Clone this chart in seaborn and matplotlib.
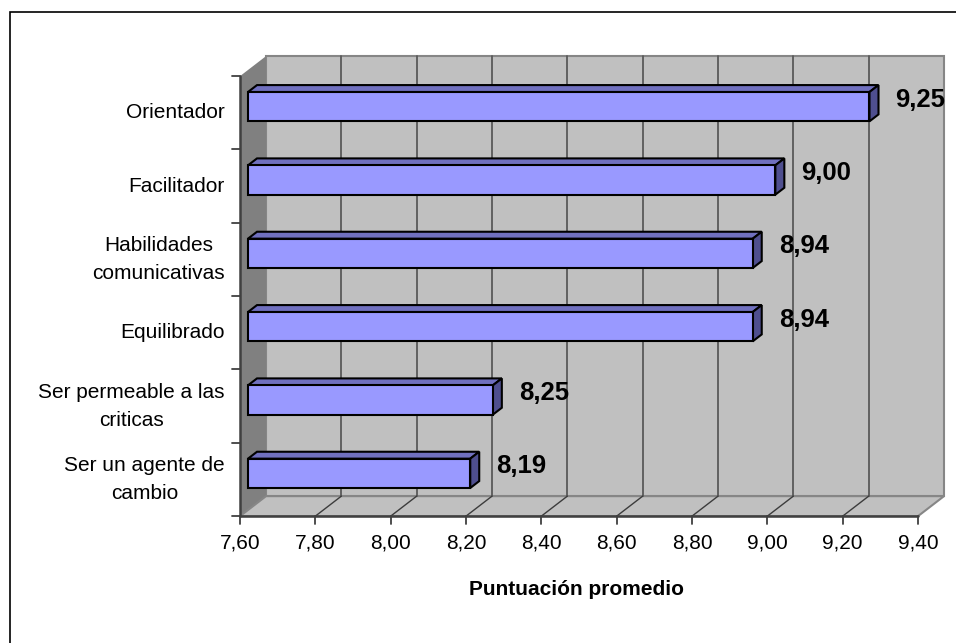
import numpy as np
import pandas as pd
import matplotlib.pyplot as plt
import seaborn as sns
from matplotlib.patches import Polygon, Rectangle
from matplotlib.transforms import IdentityTransform

# Data
categories = ["Orientador", "Facilitador", "Habilidades\ncomunicativas",
              "Equilibrado", "Ser permeable a las\ncriticas",
              "Ser un agente de\ncambio"]
scores = [9.25, 9.00, 8.94, 8.94, 8.25, 8.19]
x_ticks = [7.60, 7.80, 8.00, 8.20, 8.40, 8.60, 8.80, 9.00, 9.20, 9.40]
x_label = "Puntuación promedio"

# fake 3D depth, in pixels (x shift; y shift follows SLOPE)
FRONT = -8       # axis plane, relative to the bar faces
BACK = 18        # back wall
BAR_DEPTH = 9
SLOPE = 20 / 26

sns.set_theme(style="white")
plt.rcParams['font.family'] = ['Liberation Sans', 'DejaVu Sans']

DPI = 100
fig = plt.figure(figsize=(9.56, 6.43), dpi=DPI)
ax = fig.add_axes([248 / 956, 133 / 643, 678 / 956, 440 / 643])

df = pd.DataFrame({"categoria": categories, "puntuacion": scores})
sns.barplot(data=df, x="puntuacion", y="categoria", orient="h",
            color="#9999ff", saturation=1, width=0.4, edgecolor="black",
            linewidth=1.5, ax=ax, zorder=3)

x0, x1 = x_ticks[0], x_ticks[-1]
n = len(categories)
ytop, ybot = -0.5, n - 0.5
ax.set_xlim(x0, x1)
ax.set_ylim(ybot, ytop)
ax.axis('off')

ID = IdentityTransform()


def px(x, y, d=0.0):
    """data -> figure pixels, pushed back by d pixels of depth"""
    X, Y = ax.transData.transform((x, y))
    return (X + d, Y + d * SLOPE)


def face(pts, color, z, ec='none', lw=0.0):
    ax.add_patch(Polygon(pts, closed=True, facecolor=color, edgecolor=ec,
                         linewidth=lw, transform=ID, clip_on=False, zorder=z))


def seg(p, q, color, lw, z):
    ax.add_line(plt.Line2D([p[0], q[0]], [p[1], q[1]], color=color, lw=lw,
                           transform=ID, clip_on=False, zorder=z))


# walls and floor
face([px(x0, ytop, BACK), px(x1, ytop, BACK), px(x1, ybot, BACK), px(x0, ybot, BACK)],
     '#c0c0c0', 0.1, ec='#868686', lw=1.5)
face([px(x0, ytop, FRONT), px(x0, ytop, BACK), px(x0, ybot, BACK), px(x0, ybot, FRONT)],
     '#808080', 0.2)
face([px(x0, ybot, FRONT), px(x0, ybot, BACK), px(x1, ybot, BACK), px(x1, ybot, FRONT)],
     '#c0c0c0', 0.2, ec='#868686', lw=1.5)

for t in x_ticks[1:-1]:
    seg(px(t, ytop, BACK), px(t, ybot, BACK), '#5a5a5a', 1.3, 0.5)
    seg(px(t, ybot, BACK), px(t, ybot, FRONT), '#3c3c3c', 1.0, 0.5)

# axis lines + ticks on the front plane
seg(px(x0, ybot, FRONT), px(x1, ybot, FRONT), '#404040', 1.8, 1)
seg(px(x0, ytop, FRONT), px(x0, ybot, FRONT), '#404040', 1.8, 1)
for t in x_ticks:
    p = px(t, ybot, FRONT)
    seg(p, (p[0], p[1] - 8), '#404040', 1.3, 1)
    ax.text(p[0], p[1] - 27, f"{t:.2f}".replace('.', ','), ha='center',
            va='center', fontsize=15, color='black', transform=ID)
for i in range(n + 1):
    p = px(x0, i - 0.5, FRONT)
    seg(p, (p[0] - 8, p[1]), '#404040', 1.3, 1)
for i, c in enumerate(categories):
    p = px(x0, i, FRONT)
    ax.text(p[0] - 15, p[1], c, ha='right', va='center', ma='center',
            fontsize=15, linespacing=1.6, color='black', transform=ID)

p = px((x0 + x1) / 2, ybot, FRONT)
ax.text(p[0] - 2, p[1] - 73, x_label, ha='center', va='center',
        fontsize=15, fontweight='bold', color='black', transform=ID)

# bars: start them at the axis minimum, then add top and side faces
for bar, v in zip(ax.patches, scores):
    right = bar.get_x() + bar.get_width()
    bar.set_x(x0)
    bar.set_width(right - x0)
    bar.set_clip_on(False)
    y_a, y_b = bar.get_y(), bar.get_y() + bar.get_height()
    y_up, y_dn = min(y_a, y_b), max(y_a, y_b)
    tl, tr, br = px(x0, y_up), px(right, y_up), px(right, y_dn)
    tl2, tr2, br2 = px(x0, y_up, BAR_DEPTH), px(right, y_up, BAR_DEPTH), px(right, y_dn, BAR_DEPTH)
    face([tl, tr, tr2, tl2], '#7070bf', 2, ec='black', lw=1.5)
    face([tr, br, br2, tr2], '#4f4f8f', 2, ec='black', lw=1.5)
    c = px(right, (y_up + y_dn) / 2, BAR_DEPTH)
    ax.text(c[0] + 17, c[1], f"{v:.2f}".replace('.', ','), ha='left',
            va='center', fontsize=18.5, fontweight='bold', color='black',
            transform=ID, zorder=4)

# chart border (cut off at right and bottom in the original)
fig.add_artist(Rectangle((10, -20), 1000, 651, fill=False, edgecolor='black',
                         linewidth=1.2, transform=ID))

fig.savefig('out.png', dpi=DPI, facecolor='white')
